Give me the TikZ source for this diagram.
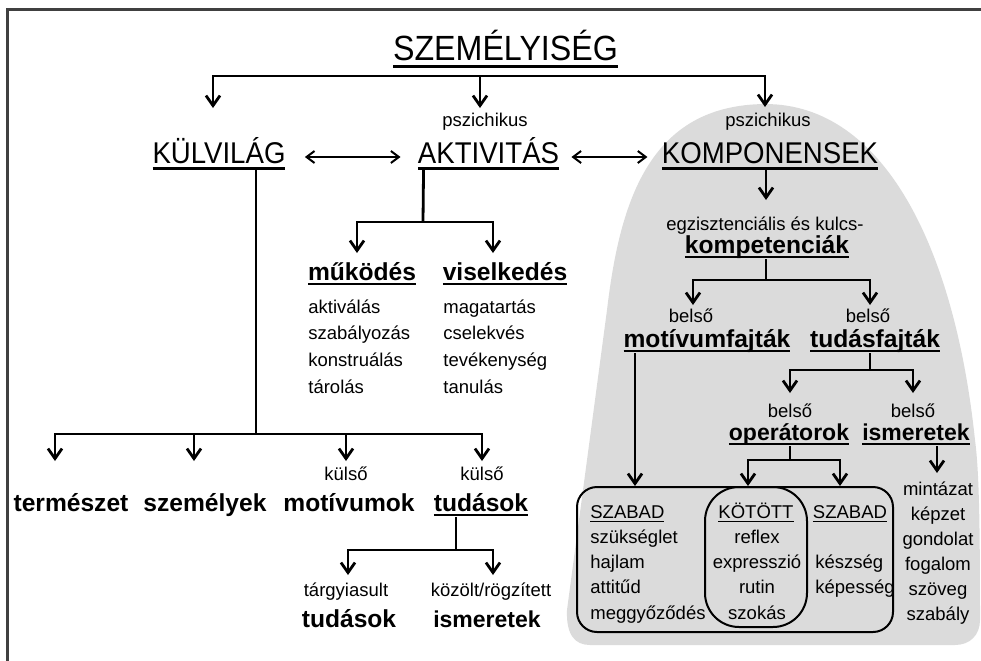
\documentclass[tikz,border=0pt]{standalone}
\usepackage{fontspec}
\setmainfont{Liberation Sans}
\newfontfamily\tallfont{Liberation Sans}[FakeStretch=0.92]
\usetikzlibrary{arrows.meta}
\usetikzlibrary{calc}

\newsavebox\ulsave
\newcommand\uword[1]{\sbox\ulsave{#1}\rlap{\rule[-0.22em]{\wd\ulsave}{0.085em}}\usebox\ulsave}

\begin{document}
\begin{tikzpicture}[
      x = 0.5pt, y = -0.5pt,
      >= {Straight Barb[length=5pt, width=7pt]},
      every node/.style = { inner sep = 0pt },
      note/.style = { font = \fontsize{9.25}{11}\selectfont },
      caps/.style = { font = \tallfont\fontsize{15}{17}\selectfont },
      bold/.style = { font = \bfseries\fontsize{12.3}{14}\selectfont },
      boldsm/.style = { font = \bfseries\fontsize{11.5}{13}\selectfont },
      link/.style = { line width = 1.4pt },
      arr/.style = { link, -> },
      twoway/.style = { line width = 1pt, {Straight Barb[length=4pt, width=6pt]}-{Straight Barb[length=4pt, width=6pt]} },
      venn/.style = { draw, line width = 1pt },
    ]

    \useasboundingbox (0,0) rectangle (981,660);

    %% frame
    \draw[black!75, line width = 1.5pt] (7,670) -- (7,9.5) -- (990,9.5);

    %% shaded components area
    \fill[black!14] (590,645) -- (955,645) .. controls (970,645) and (980,635) .. (980,620)
      .. controls (980,520) and (979,470) .. (975,440)
      .. controls (955,250) and (885,104) .. (765,104)
      .. controls (650,105) and (620,200) .. (607,310)
      -- (567,610) .. controls (566,635) and (575,645) .. (590,645) -- cycle;

    %% top
    \node[font = \tallfont\fontsize{17.5}{20}\selectfont, anchor = base] (title) at (505.5,60) {\uword{SZEMÉLYISÉG}};

    \node[note, anchor = base] (psy1) at (485,126) {pszichikus};
    \node[note, anchor = base] (psy2) at (768,126) {pszichikus};
    \node[caps, anchor = base] (kulv) at (219,163) {\uword{KÜLVILÁG}};
    \node[caps, anchor = base] (aktiv) at (488.5,163) {\uword{AKTIVITÁS}};
    \node[caps, anchor = base] (komp) at (770,163) {\uword{KOMPONENSEK}};

    \coordinate (split0) at (480,76);
    \draw[arr] (split0) -| ($(kulv.base)+(-6,-55)$);
    \draw[arr] (split0) -- ($(psy1.base)+(-5,-18)$);
    \draw[arr] (split0) -| ($(psy2.base)+(-3,-19)$);

    \draw[twoway] ($(kulv.base east)+(19,-6)$) -- ($(aktiv.base west)+(-17,-6)$);
    \draw[twoway] ($(aktiv.base east)+(12,-6)$) -- ($(komp.base west)+(-14,-6)$);

    %% activity
    \node[bold, anchor = base] (mukod) at (362,280) {\uword{működés}};
    \node[bold, anchor = base] (visel) at (505,280) {\uword{viselkedés}};
    \coordinate (split1) at (423,222);
    \draw[link] ($(aktiv.base west)+(6,6)$) -- (split1);
    \draw[arr] (split1) -| ($(mukod.base)+(-5,-27)$);
    \draw[arr] (split1) -| ($(visel.base)+(-12,-27)$);

    \foreach \w [count=\i from 0] in {aktiválás, szabályozás, konstruálás, tárolás}
      \node[note, anchor = base west] (func\i) at (308, 313+26.7*\i) {\w};
    \foreach \w [count=\i from 0] in {magatartás, cselekvés, tevékenység, tanulás}
      \node[note, anchor = base west] (beh\i) at (443, 313+26.7*\i) {\w};

    %% outer world
    \coordinate (split3) at (256,434);
    \draw[link] ($(kulv.base)+(37,6)$) -- (split3);
    \node[bold, anchor = base] (term) at (71,511) {természet};
    \node[bold, anchor = base] (szem) at (205,511) {személyek};
    \node[note, anchor = base] (kuls1) at (346,480) {külső};
    \node[bold, anchor = base] (motiv) at (349,511) {motívumok};
    \node[note, anchor = base] (kuls2) at (482,480) {külső};
    \node[bold, anchor = base] (tud1) at (481,511) {\uword{tudások}};
    \draw[arr] (split3) -| ($(term.base)+(-16,-50)$);
    \draw[arr] (split3) -| ($(szem.base)+(-11,-50)$);
    \draw[arr] (split3) -| ($(kuls1.base)+(0,-19)$);
    \draw[arr] (split3) -| ($(kuls2.base)+(0,-19)$);

    \coordinate (split6) at (456,550);
    \draw[link] ($(tud1.base)+(-25,6)$) -- (split6);
    \node[note, anchor = base] (targ) at (346,596) {tárgyiasult};
    \node[bold, anchor = base] (tud2) at (349,627) {tudások};
    \node[note, anchor = base] (kozl) at (491,596) {közölt/rögzített};
    \node[boldsm, anchor = base] (ism2) at (487,627) {ismeretek};
    \draw[arr] (split6) -| ($(targ.base)+(2,-21)$);
    \draw[arr] (split6) -| ($(kozl.base)+(2,-21)$);

    %% components
    \node[note, anchor = base] (egz) at (765,230) {egzisztenciális és kulcs-};
    \node[bold, anchor = base] (kompet) at (767,253) {\uword{kompetenciák}};
    \draw[arr] ($(komp.base)+(-4,6)$) -- ($(egz.base)+(1,-30)$);
    \coordinate (split2) at (766,280);
    \draw[link] ($(kompet.base)+(-1,6)$) -- (split2);
    \node[note, anchor = base] (bel1) at (691,322) {belső};
    \node[note, anchor = base] (bel2) at (868,322) {belső};
    \node[bold, anchor = base] (motf) at (707,347) {\uword{motívumfajták}};
    \node[bold, anchor = base] (tudf) at (875,347) {\uword{tudásfajták}};
    \draw[arr] (split2) -| ($(bel1.base)+(2,-17)$);
    \draw[arr] (split2) -| ($(bel2.base)+(2,-17)$);

    \coordinate (split4) at (870,370);
    \draw[link] ($(tudf.base)+(-5,6)$) -- (split4);
    \node[note, anchor = base] (bel3) at (790,417) {belső};
    \node[note, anchor = base] (bel4) at (913,417) {belső};
    \node[boldsm, anchor = base] (oper) at (789,440) {\uword{operátorok}};
    \node[boldsm, anchor = base] (isme) at (916,440) {\uword{ismeretek}};
    \draw[arr] (split4) -| ($(bel3.base)+(0,-24)$);
    \draw[arr] (split4) -| ($(bel4.base)+(0,-24)$);

    %% free and bound parts
    \node[venn, rounded corners = 10pt, minimum width = 158pt, minimum height = 72.5pt] (mbox) at (735,559.5) {};
    \node[venn, rounded corners = 17pt, minimum width = 51pt, minimum height = 70pt] (kbox) at (756,557) {};

    \coordinate (m0) at ($(motf.base)+(-72,6)$);
    \draw[arr] (m0) -- (m0 |- mbox.north);

    \coordinate (split5) at (790,460);
    \draw[link] ($(oper.base)+(1,6)$) -- (split5);
    \draw[arr] (split5) -| ($(kbox.north)+(-8,0)$);
    \draw[arr] (split5) -| ($(mbox.north)+(105,0)$);

    \node[note, anchor = base west] (szab1) at (590,518) {\uword{SZABAD}};
    \foreach \w [count=\i] in {szükséglet, hajlam, attitűd, meggyőződés}
      \node[note, anchor = base west] (need\i) at (590, 518+25.3*\i) {\w};

    \node[note, anchor = base] (kot) at (756,518) {\uword{KÖTÖTT}};
    \foreach \w [count=\i] in {reflex, expresszió, rutin, szokás}
      \node[note, anchor = base] (bound\i) at (757, 518+25.3*\i) {\w};

    \node[note, anchor = base] (szab2) at (850,518) {\uword{SZABAD}};
    \foreach \w [count=\i from 2] in {készség, képesség}
      \node[note, anchor = base west] (skill\i) at (815, 518+25.3*\i) {\w};

    \foreach \w [count=\i from 0] in {mintázat, képzet, gondolat, fogalom, szöveg, szabály}
      \node[note, anchor = base] (know\i) at (938, 495+25*\i) {\w};
    \draw[arr] ($(isme.base)+(21,6)$) -- ($(know0.base)+(-1,-22)$);
  \end{tikzpicture}
\end{document}
